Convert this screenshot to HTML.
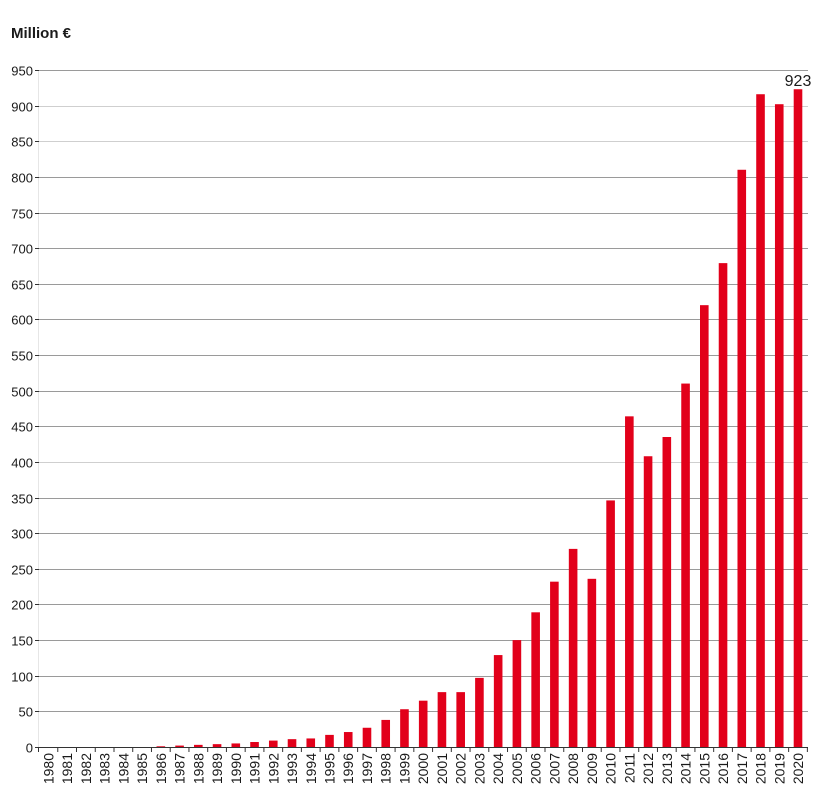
<!DOCTYPE html>
<html><head><meta charset="utf-8"><style>
html,body{margin:0;padding:0;background:#fff;}
text{font-family:"Liberation Sans",sans-serif;}
</style></head><body>
<svg width="820" height="800" xmlns="http://www.w3.org/2000/svg">
<text x="11" y="38" font-size="15" font-weight="bold" fill="#1a1a1a">Million €</text>
<g id="grid"></g>
<g id="bars"></g>
<g id="xl"></g>
<script>
var ns="http://www.w3.org/2000/svg";
function el(t,a,p,txt){var e=document.createElementNS(ns,t);for(var k in a)e.setAttribute(k,a[k]);if(txt!==undefined)e.textContent=txt;document.getElementById(p).appendChild(e);return e;}
var y0=747,k=(747-70)/950;
el('line',{x1:38.5,y1:70,x2:38.5,y2:747,stroke:'#e6e6e6','stroke-width':1},'grid');
for(var v=0;v<=950;v+=50){
 var y=Math.round(y0-v*k)+0.5;
 if(v>0) el('line',{x1:38,y1:y,x2:808,y2:y,stroke:(v==400||v==900||v==850)?'#cfcfcf':'#9a9a9a','stroke-width':1},'grid');
 el('line',{x1:35,y1:y,x2:39,y2:y,stroke:'#333','stroke-width':1},'grid');
 el('text',{x:33,y:y+5,'font-size':13,'text-anchor':'end',fill:'#1a1a1a'},'grid',String(v));
}
var vals=[0,0,0,0,0,0,1,2,3,4,5,7,9,11,12,17,21,27,38,53,65,77,77,97,129,150,189,232,278,236,346,464,408,435,510,620,679,810,916,902,923];
for(var i=0;i<41;i++){
 var cx=48.4+i*18.74, h=vals[i]*k;
 if(h>0) el('rect',{x:cx-4.3,y:y0-h,width:8.6,height:h,fill:'#e2001a'},'bars');
 el('line',{x1:cx+9.37,y1:747,x2:cx+9.37,y2:752,stroke:'#333','stroke-width':1},'bars');
 el('text',{x:0,y:0,'font-size':14,'text-anchor':'end',fill:'#1a1a1a',transform:'translate('+(cx+5)+',753) rotate(-90)'},'xl',String(1980+i));
}
el('line',{x1:38,y1:747.5,x2:808,y2:747.5,stroke:'#333','stroke-width':1},'bars');
el('line',{x1:38.5,y1:747,x2:38.5,y2:752,stroke:'#333','stroke-width':1},'bars');
el('text',{x:798,y:86,'font-size':16,'text-anchor':'middle',fill:'#1a1a1a'},'bars','923');
</script>
</svg>
</body></html>
